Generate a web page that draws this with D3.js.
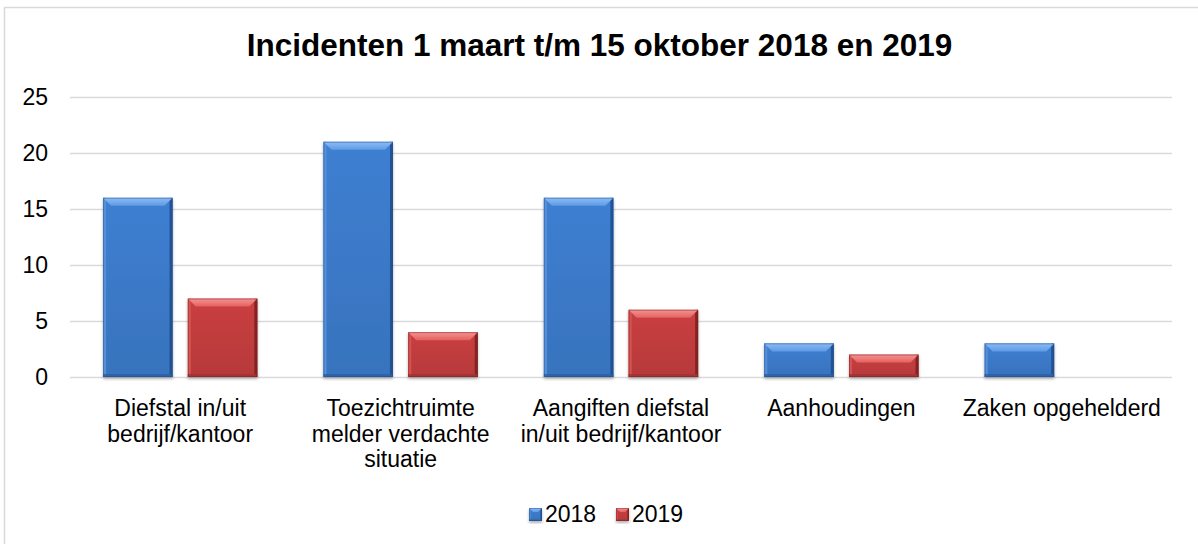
<!DOCTYPE html>
<html><head><meta charset="utf-8">
<script src="https://cdn.jsdelivr.net/npm/d3@7"></script>
<style>body{margin:0;background:#fff}svg{display:block;font-family:"Liberation Sans",Arial,sans-serif}</style>
</head><body><svg id="c" width="1198" height="544"></svg>
<script>
const categories = [
  ["Diefstal in/uit", "bedrijf/kantoor"],
  ["Toezichtruimte", "melder verdachte", "situatie"],
  ["Aangiften diefstal", "in/uit bedrijf/kantoor"],
  ["Aanhoudingen"],
  ["Zaken opgehelderd"]
];
const seriesNames = ["2018", "2019"];
const values2018 = [16, 21, 16, 3, 3];
const values2019 = [7, 4, 6, 2, 0];
const yTicks = [0, 5, 10, 15, 20, 25];

const svg = d3.select("#c");
const m = {l: 70, r: 1172, t: 97, b: 377};

svg.append("rect").attr("x", 4.5).attr("y", 7.5).attr("width", 1200).attr("height", 545)
  .attr("fill", "#fff").attr("stroke", "#d9d9d9").attr("stroke-width", 1.5);

const x = d3.scaleBand().domain(d3.range(categories.length)).range([m.l, m.r]).paddingInner(0).paddingOuter(0);
const y = d3.scaleLinear().domain([0, 25]).range([m.b, m.t]);

const ax = svg.append("g").attr("transform", `translate(${m.l},0)`)
  .call(d3.axisLeft(y).tickValues(yTicks).tickSize(-(m.r - m.l)).tickPadding(22));
ax.select(".domain").remove();
ax.selectAll(".tick line").attr("stroke", "#d9d9d9").attr("stroke-width", 1.5);
ax.selectAll(".tick text").attr("font-size", 23).attr("fill", "#000")
  .attr("font-family", "'Liberation Sans',Arial,sans-serif");

const defs = svg.append("defs");
const colors = [
  {face: "#3c7bcb", top: "#5f9be6", topEdge: "#8cbcf4", side: "#5790da", dark: "#1f4b8a", bottom: "#2c62a8"},
  {face: "#c33d3e", top: "#e4605f", topEdge: "#f49593", side: "#d45353", dark: "#7a1f20", bottom: "#a53233"}
];
colors.forEach((c, i) => {
  const g = defs.append("linearGradient").attr("id", "face" + i).attr("x1", 0).attr("x2", 0).attr("y1", 0).attr("y2", 1);
  g.append("stop").attr("offset", 0).attr("stop-color", d3.color(c.face).brighter(0.1));
  g.append("stop").attr("offset", 1).attr("stop-color", d3.color(c.face).darker(0.2));
  const t = defs.append("linearGradient").attr("id", "top" + i).attr("x1", 0).attr("x2", 0).attr("y1", 0).attr("y2", 1);
  t.append("stop").attr("offset", 0).attr("stop-color", c.topEdge);
  t.append("stop").attr("offset", 1).attr("stop-color", c.top);
});
const flt = defs.append("filter").attr("id", "sh").attr("x", -0.2).attr("y", -0.2).attr("width", 1.4).attr("height", 1.4);
flt.append("feGaussianBlur").attr("in", "SourceAlpha").attr("stdDeviation", 1.5);
flt.append("feOffset").attr("dx", 0).attr("dy", 2).attr("result", "b");
flt.append("feComponentTransfer").append("feFuncA").attr("type", "linear").attr("slope", 0.3);
const mg = flt.append("feMerge"); mg.append("feMergeNode"); mg.append("feMergeNode").attr("in", "SourceGraphic");

const xs = d3.scaleBand().domain([0, 1]).range([0, x.bandwidth()]).paddingInner(0.18).paddingOuter(0.39);
const series = [values2018, values2019];

function bar(g, bx, by, bw, bh, ci, bev) {
  const c = colors[ci];
  const b = Math.min(bev, bh / 2, bw / 2);
  const s = Math.max(1, Math.min(3, b * 0.4));
  const gg = g.append("g").attr("filter", "url(#sh)");
  gg.append("rect").attr("x", bx).attr("y", by).attr("width", bw).attr("height", bh).attr("fill", `url(#face${ci})`);
  gg.append("rect").attr("x", bx).attr("y", by).attr("width", s).attr("height", bh).attr("fill", c.side);
  gg.append("rect").attr("x", bx + bw - s).attr("y", by).attr("width", s).attr("height", bh).attr("fill", c.dark).attr("opacity", 0.85);
  gg.append("rect").attr("x", bx).attr("y", by + bh - s).attr("width", bw).attr("height", s).attr("fill", c.bottom).attr("opacity", 0.85);
  gg.append("path").attr("d", `M${bx},${by}L${bx+bw},${by}L${bx+bw-b},${by+b}L${bx+b},${by+b}Z`).attr("fill", `url(#top${ci})`);
  gg.append("rect").attr("x", bx + 0.5).attr("y", by + 0.5).attr("width", bw - 1).attr("height", bh - 1)
    .attr("fill", "none").attr("stroke", c.dark).attr("stroke-width", 1).attr("opacity", 0.45);
}

const barsG = svg.append("g");
categories.forEach((cat, i) => {
  series.forEach((vals, s) => {
    const v = vals[i];
    if (v <= 0) return;
    const bx = x(i) + xs(s);
    bar(barsG, bx, y(v), xs.bandwidth(), y(0) - y(v), s, 8);
  });
  const t = svg.append("text").attr("text-anchor", "middle").attr("font-size", 23).attr("fill", "#000");
  cat.forEach((line, k) => {
    t.append("tspan").attr("x", x(i) + x.bandwidth() / 2).attr("y", 416 + k * 25.5).text(line);
  });
});

svg.append("text").attr("x", 599.5).attr("y", 56).attr("text-anchor", "middle")
  .attr("font-size", 31.5).attr("font-weight", "bold").attr("fill", "#000")
  .text("Incidenten 1 maart t/m 15 oktober 2018 en 2019");

const lg = svg.append("g");
const lx = [529, 616];
seriesNames.forEach((n, s) => {
  bar(lg, lx[s], 508, 13, 13, s, 4);
  lg.append("text").attr("x", lx[s] + 16).attr("y", 522).attr("font-size", 23).attr("fill", "#000").text(n);
});
</script></body></html>
